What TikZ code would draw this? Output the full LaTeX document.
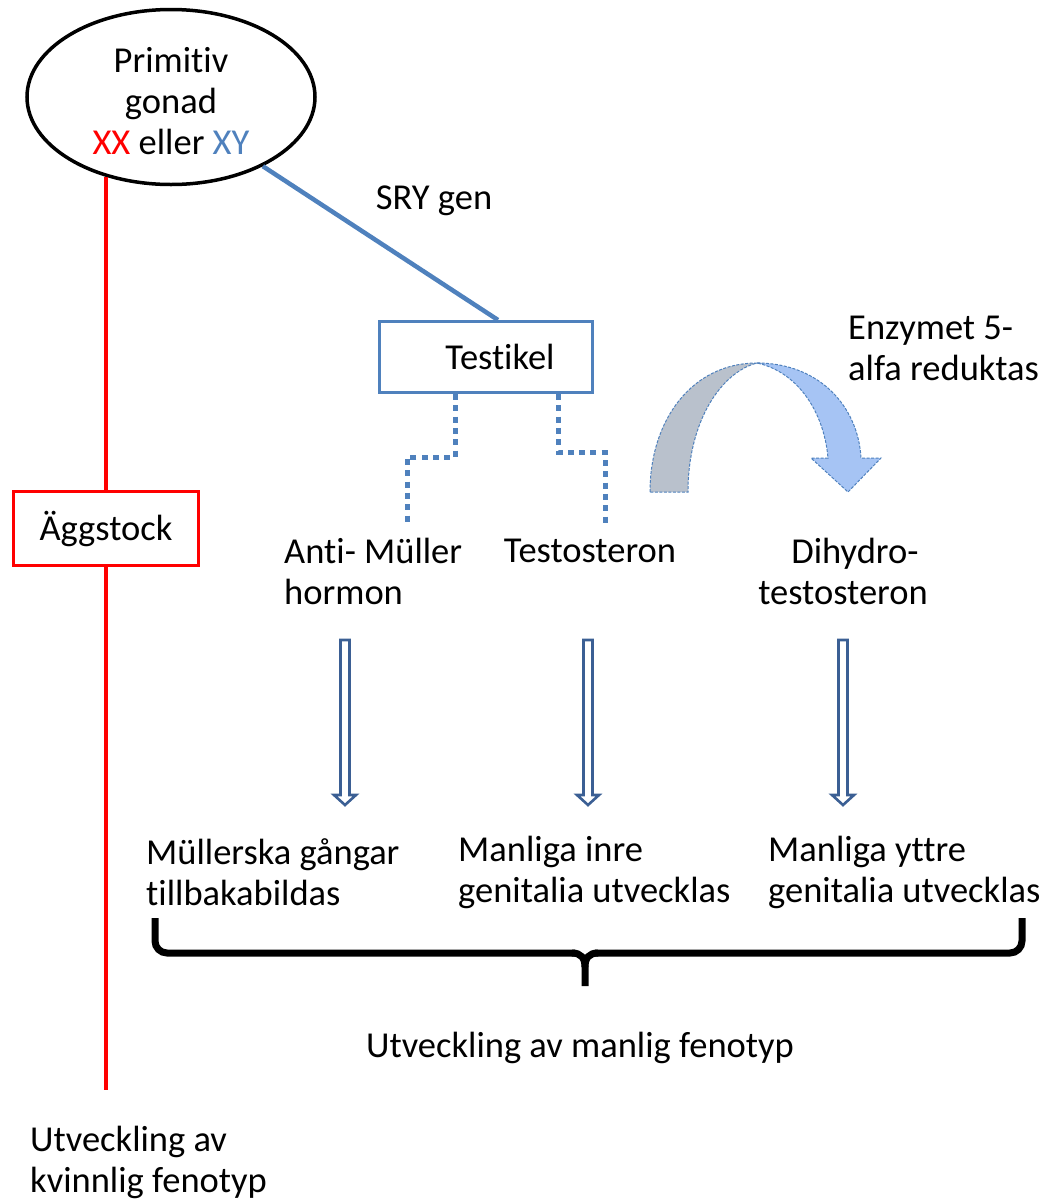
\documentclass[tikz,border=0pt]{standalone}
\usepackage{fontspec}
\setmainfont{Carlito}[Ligatures=NoCommon]
\usetikzlibrary{shapes.geometric,calc}
\definecolor{accblue}{HTML}{4F81BD}
\definecolor{arrblue}{HTML}{3B5F94}
\definecolor{curvegray}{HTML}{B9C1CC}
\definecolor{curveblue}{HTML}{A6C4F4}
\definecolor{pred}{HTML}{FF0000}
\newcommand\dblarrow[1]{\draw[darr] (#1-4.5,640) -- (#1-4.5,795) -- (#1-11,795) -- (#1,805) -- (#1+11,795) -- (#1+4.5,795) -- (#1+4.5,640) -- cycle;}
\begin{document}
\begin{tikzpicture}[x=1pt,y=-1pt,
  txt/.style={font=\fontsize{36.5}{41}\selectfont, inner sep=0pt},
  gonadstyle/.style={ellipse, draw=black, line width=3.5pt, minimum width=288pt, minimum height=175pt, inner sep=0pt},
  boxstyle/.style={rectangle, line width=3pt, inner sep=0pt, font=\fontsize{36.5}{41}\selectfont},
  redline/.style={draw=pred, line width=4.5pt},
  blueline/.style={draw=accblue, line width=4.5pt},
  dotline/.style={draw=accblue, line width=5pt, dash pattern=on 6pt off 5.3pt},
  darr/.style={draw=arrblue, fill=white, line width=2.6pt, line join=miter},
  curvestyle/.style={draw=accblue, line width=1pt, dash pattern=on 3pt off 1.5pt},
  bracestyle/.style={draw=black, line width=7pt}
]
\useasboundingbox (0,0) rectangle (1044,1200);

% nodes
\node[gonadstyle] (gonad) at (171,97) {};
\node[txt, align=center] (gonadtxt) at (171,101) {Primitiv\\gonad\\{\color{pred}XX} eller {\color{accblue}XY}};
\node[boxstyle, draw=pred, minimum width=185pt, minimum height=74pt] (agg) at (106,528.5) {Äggstock};
\node[boxstyle, draw=accblue, minimum width=213pt, minimum height=71pt] (testikel) at (486,357) {\hspace*{28pt}Testikel};
\node[txt, anchor=center] (sry) at (434,201) {SRY gen};
\node[txt, align=left, anchor=west] (enz) at (848,348) {Enzymet 5-\\alfa reduktas};
\node[txt, align=left, anchor=west] (amh) at (284,571.5) {Anti- Müller\\hormon};
\node[txt, anchor=center] (testo) at (590,551) {Testosteron};
\node[txt, align=center, anchor=center] (dht) at (843,571.5) {\hspace*{24pt}Dihydro-\\testosteron};
\node[txt, align=left, anchor=west] (mull) at (146,872) {Müllerska gångar\\tillbakabildas};
\node[txt, align=left, anchor=west] (inre) at (458,872) {Manliga inre\\genitalia utvecklas};
\node[txt, align=left, anchor=west] (yttre) at (768,872) {Manliga yttre\\genitalia utvecklas};
\node[txt, anchor=center] (manlig) at (580,1048) {Utveckling av manlig fenotyp};
\node[txt, align=left, anchor=west] (kvinnlig) at (30,1162.5) {Utveckling av\\kvinnlig fenotyp};

% red female line
\draw[redline] (agg.north) -- (agg.north |- gonad.231);
\coordinate (kvend) at (106,1090);
\draw[redline] (agg.south) -- (kvend);

% blue SRY line
\draw[blueline] (gonad.-37) -- ([xshift=12pt]testikel.north);

% dotted connectors
\coordinate (dl0) at ([xshift=-31pt]testikel.south);
\coordinate (dlend) at (407,523);
\draw[dotline] (dl0) -- ++(0,63) -| (dlend);
\coordinate (dr0) at ([xshift=72pt]testikel.south);
\coordinate (drend) at (605,523);
\draw[dotline] (dr0) -- ++(0,58) -| (drend);

% double arrows
\dblarrow{345}
\dblarrow{588}
\dblarrow{843}

% curved arrow
\filldraw[curvestyle, fill=curvegray] (650,492) .. controls (650,420) and (692,363) .. (757,363) .. controls (722,372) and (688,420) .. (688,492) -- cycle;
\filldraw[curvestyle, fill=curveblue] (757,363) .. controls (818,363) and (858,405) .. (861,458) -- (881,458) -- (848,492) -- (811,458) -- (828,458) .. controls (824,412) and (798,372) .. (757,363) -- cycle;

% brace
\draw[bracestyle, rounded corners=12pt] (155,918) -- (155,953) -- (575,953);
\draw[bracestyle, rounded corners=12pt] (1022,918) -- (1022,953) -- (595,953);
\draw[bracestyle] (572,953) .. controls (581,953) and (585,958) .. (585,967) -- (585,986);
\draw[bracestyle] (598,953) .. controls (589,953) and (585,958) .. (585,967);
\end{tikzpicture}
\end{document}
